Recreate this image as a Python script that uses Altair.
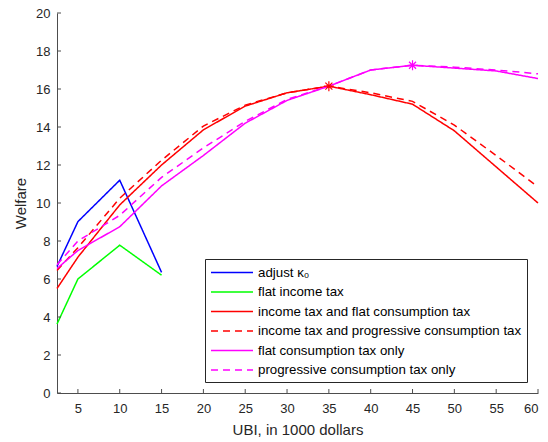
import altair as alt
import pandas as pd

# UBI levels (in 1000 dollars)
ubi = [2.5, 5, 10, 15, 20, 25, 30, 35, 40, 45, 50, 55, 60]
ubi_short = [2.5, 5, 10, 15]

# Welfare by policy scenario
adjust_k0 = [6.66, 9.02, 11.2, 6.35]
flat_income = [3.63, 6.0, 7.78, 6.2]
income_flat_cons = [5.5, 7.15, 9.9, 12.0, 13.85, 15.1, 15.8, 16.15, 15.7, 15.2, 13.8, 11.9, 10.0]
income_prog_cons = [6.45, 7.65, 10.25, 12.25, 14.05, 15.15, 15.8, 16.15, 15.8, 15.35, 14.1, 12.5, 10.85]
flat_cons_only = [6.55, 7.5, 8.75, 10.9, 12.5, 14.2, 15.4, 16.15, 17.0, 17.25, 17.1, 16.95, 16.55]
prog_cons_only = [6.75, 8.0, 9.35, 11.35, 12.9, 14.3, 15.45, 16.15, 17.0, 17.25, 17.15, 17.0, 16.8]

series_names = [
    "adjust κ₀",
    "flat income tax",
    "income tax and flat consumption tax",
    "income tax and progressive consumption tax",
    "flat consumption tax only",
    "progressive consumption tax only",
]
series_colors = ["#0000ff", "#00ff00", "#ff0000", "#ff0000", "#ff00ff", "#ff00ff"]
series_dashes = [[1, 0], [1, 0], [1, 0], [7, 5], [1, 0], [7, 5]]

x_ticks = [5, 10, 15, 20, 25, 30, 35, 40, 45, 50, 55, 60]
y_ticks = [0, 2, 4, 6, 8, 10, 12, 14, 16, 18, 20]

rows = []
for name, xs, ys in [
    (series_names[0], ubi_short, adjust_k0),
    (series_names[1], ubi_short, flat_income),
    (series_names[2], ubi, income_flat_cons),
    (series_names[3], ubi, income_prog_cons),
    (series_names[4], ubi, flat_cons_only),
    (series_names[5], ubi, prog_cons_only),
]:
    for x, y in zip(xs, ys):
        rows.append({"series": name, "ubi": x, "welfare": y})
df = pd.DataFrame(rows)

# Optimum of the two flat-consumption-tax scenarios, marked with asterisks
peak_series = [series_names[2], series_names[4]]
peaks = df[df["series"].isin(peak_series)]
peaks = peaks.loc[peaks.groupby("series")["welfare"].idxmax()]

W, H = 481, 380
FONT = "Liberation Sans"
AXIS_COLOR = "#4d4d4d"
TEXT_COLOR = "#262626"

xscale = alt.Scale(domain=[2.5, 60], nice=False, zero=False)
yscale = alt.Scale(domain=[0, 20], nice=False, zero=False)
color_scale = alt.Scale(domain=series_names, range=series_colors)
dash_scale = alt.Scale(domain=series_names, range=series_dashes)

x_axis = alt.Axis(
    values=x_ticks, ticks=False, grid=False, title="UBI, in 1000 dollars",
    labelPadding=9, titlePadding=7, domainColor=AXIS_COLOR, labelOverlap=False,
)
y_axis = alt.Axis(
    values=y_ticks, ticks=False, grid=False, title="Welfare",
    labelPadding=7, titlePadding=7, domainColor=AXIS_COLOR, labelOverlap=False,
)

# Wide, flat legend sample line: path spans 5.6 units * sqrt(size)/2 px
legend_line = "M-1,0H4.6"
legend = alt.Legend(
    title=None, orient="none", legendX=148, legendY=246,
    symbolType=legend_line, symbolSize=225, symbolStrokeWidth=1.5,
    labelFont=FONT, labelFontSize=13.3, labelColor="#000000", labelLimit=500,
    labelOffset=31, strokeColor="#262626", fillColor="white",
    padding=5, rowPadding=4.5, direction="vertical",
)

lines = alt.Chart(df).mark_line(strokeWidth=1.5).encode(
    x=alt.X("ubi:Q", scale=xscale, axis=x_axis),
    y=alt.Y("welfare:Q", scale=yscale, axis=y_axis),
    color=alt.Color("series:N", scale=color_scale, legend=legend, sort=series_names),
    strokeDash=alt.StrokeDash("series:N", scale=dash_scale, legend=legend, sort=series_names),
)

asterisk = "M-1,0L1,0M0,-1L0,1M-0.7,-0.7L0.7,0.7M-0.7,0.7L0.7,-0.7"
stars = alt.Chart(peaks).mark_point(
    shape=asterisk, filled=False, size=100, strokeWidth=1.2, opacity=1
).encode(
    x=alt.X("ubi:Q", scale=xscale, axis=x_axis),
    y=alt.Y("welfare:Q", scale=yscale, axis=y_axis),
    color=alt.Color("series:N", scale=color_scale, legend=None),
)

# Inward-pointing tick marks
x_tick_marks = alt.Chart(pd.DataFrame({"ubi": x_ticks})).mark_rule(
    color=AXIS_COLOR, strokeWidth=1
).encode(
    x=alt.X("ubi:Q", scale=xscale, axis=x_axis),
    y=alt.value(H), y2=alt.value(H - 4),
)
y_tick_marks = alt.Chart(pd.DataFrame({"welfare": y_ticks})).mark_rule(
    color=AXIS_COLOR, strokeWidth=1
).encode(
    y=alt.Y("welfare:Q", scale=yscale, axis=y_axis),
    x=alt.value(0), x2=alt.value(4),
)

chart = (
    alt.layer(lines, stars, x_tick_marks, y_tick_marks)
    .properties(
        width=W, height=H,
        background="white",
        autosize=alt.AutoSizeParams(type="none"),
        padding={"left": 57, "top": 13, "right": 10, "bottom": 49},
    )
    .configure_view(stroke=None)
    .configure_axis(
        labelFont=FONT, labelFontSize=13, labelColor=TEXT_COLOR,
        titleFont=FONT, titleFontSize=15, titleFontWeight="normal",
        titleColor=TEXT_COLOR, domainWidth=1,
    )
)

chart.save("out.html", embed_options={"renderer": "svg", "actions": False})
